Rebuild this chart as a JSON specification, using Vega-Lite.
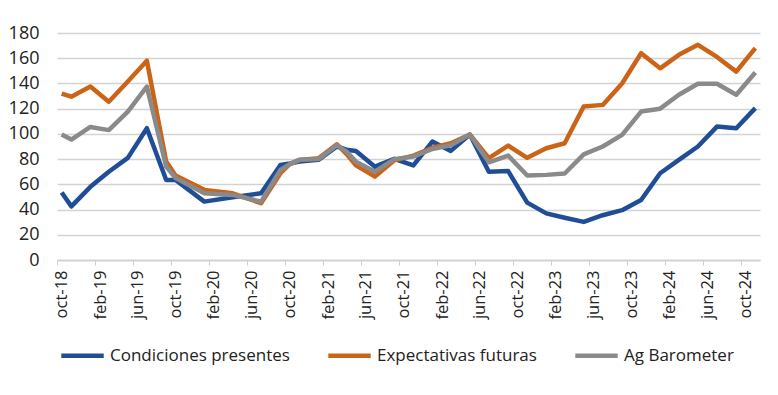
{
  "$schema": "https://vega.github.io/schema/vega-lite/v6.json",
  "width": 703,
  "height": 227,
  "autosize": {"type": "none"},
  "padding": {"left": 57, "top": 33, "right": 18, "bottom": 135},
  "background": "white",
  "config": {"view": {"stroke": null}, "font": "Open Sans"},
  "data": {
    "values": [
      {"fecha": "2018-10-01", "serie": "Condiciones presentes", "valor": 53.5},
      {"fecha": "2018-11-01", "serie": "Condiciones presentes", "valor": 42.5},
      {"fecha": "2019-01-01", "serie": "Condiciones presentes", "valor": 58},
      {"fecha": "2019-03-01", "serie": "Condiciones presentes", "valor": 70},
      {"fecha": "2019-05-01", "serie": "Condiciones presentes", "valor": 81},
      {"fecha": "2019-07-01", "serie": "Condiciones presentes", "valor": 104.5},
      {"fecha": "2019-09-01", "serie": "Condiciones presentes", "valor": 63.5},
      {"fecha": "2019-10-01", "serie": "Condiciones presentes", "valor": 63.5},
      {"fecha": "2020-01-01", "serie": "Condiciones presentes", "valor": 46.3},
      {"fecha": "2020-04-01", "serie": "Condiciones presentes", "valor": 49.8},
      {"fecha": "2020-07-01", "serie": "Condiciones presentes", "valor": 52.9},
      {"fecha": "2020-09-01", "serie": "Condiciones presentes", "valor": 75.4},
      {"fecha": "2020-10-01", "serie": "Condiciones presentes", "valor": 76.5},
      {"fecha": "2020-11-01", "serie": "Condiciones presentes", "valor": 78},
      {"fecha": "2021-01-01", "serie": "Condiciones presentes", "valor": 79.4},
      {"fecha": "2021-03-01", "serie": "Condiciones presentes", "valor": 90},
      {"fecha": "2021-04-01", "serie": "Condiciones presentes", "valor": 87.5},
      {"fecha": "2021-05-01", "serie": "Condiciones presentes", "valor": 86.5},
      {"fecha": "2021-07-01", "serie": "Condiciones presentes", "valor": 74},
      {"fecha": "2021-09-01", "serie": "Condiciones presentes", "valor": 80.2},
      {"fecha": "2021-11-01", "serie": "Condiciones presentes", "valor": 75},
      {"fecha": "2022-01-01", "serie": "Condiciones presentes", "valor": 93.9},
      {"fecha": "2022-03-01", "serie": "Condiciones presentes", "valor": 86.5},
      {"fecha": "2022-05-01", "serie": "Condiciones presentes", "valor": 99.5},
      {"fecha": "2022-07-01", "serie": "Condiciones presentes", "valor": 70},
      {"fecha": "2022-09-01", "serie": "Condiciones presentes", "valor": 70.5},
      {"fecha": "2022-11-01", "serie": "Condiciones presentes", "valor": 45.5},
      {"fecha": "2023-01-01", "serie": "Condiciones presentes", "valor": 37},
      {"fecha": "2023-03-01", "serie": "Condiciones presentes", "valor": 33.5},
      {"fecha": "2023-05-01", "serie": "Condiciones presentes", "valor": 30.2},
      {"fecha": "2023-07-01", "serie": "Condiciones presentes", "valor": 35.5},
      {"fecha": "2023-09-01", "serie": "Condiciones presentes", "valor": 39.5},
      {"fecha": "2023-11-01", "serie": "Condiciones presentes", "valor": 47.6},
      {"fecha": "2024-01-01", "serie": "Condiciones presentes", "valor": 68.8},
      {"fecha": "2024-03-01", "serie": "Condiciones presentes", "valor": 79.4},
      {"fecha": "2024-05-01", "serie": "Condiciones presentes", "valor": 90},
      {"fecha": "2024-07-01", "serie": "Condiciones presentes", "valor": 105.8},
      {"fecha": "2024-09-01", "serie": "Condiciones presentes", "valor": 104.5},
      {"fecha": "2024-11-01", "serie": "Condiciones presentes", "valor": 120.4},

      {"fecha": "2018-10-01", "serie": "Expectativas futuras", "valor": 132},
      {"fecha": "2018-11-01", "serie": "Expectativas futuras", "valor": 129.5},
      {"fecha": "2019-01-01", "serie": "Expectativas futuras", "valor": 137.5},
      {"fecha": "2019-03-01", "serie": "Expectativas futuras", "valor": 125.5},
      {"fecha": "2019-05-01", "serie": "Expectativas futuras", "valor": 141.5},
      {"fecha": "2019-07-01", "serie": "Expectativas futuras", "valor": 158},
      {"fecha": "2019-09-01", "serie": "Expectativas futuras", "valor": 78},
      {"fecha": "2019-10-01", "serie": "Expectativas futuras", "valor": 67},
      {"fecha": "2020-01-01", "serie": "Expectativas futuras", "valor": 55.6},
      {"fecha": "2020-04-01", "serie": "Expectativas futuras", "valor": 52.9},
      {"fecha": "2020-07-01", "serie": "Expectativas futuras", "valor": 45},
      {"fecha": "2020-09-01", "serie": "Expectativas futuras", "valor": 68.8},
      {"fecha": "2020-10-01", "serie": "Expectativas futuras", "valor": 76},
      {"fecha": "2020-11-01", "serie": "Expectativas futuras", "valor": 79.4},
      {"fecha": "2021-01-01", "serie": "Expectativas futuras", "valor": 80.7},
      {"fecha": "2021-03-01", "serie": "Expectativas futuras", "valor": 91.8},
      {"fecha": "2021-04-01", "serie": "Expectativas futuras", "valor": 84},
      {"fecha": "2021-05-01", "serie": "Expectativas futuras", "valor": 75},
      {"fecha": "2021-07-01", "serie": "Expectativas futuras", "valor": 66.1},
      {"fecha": "2021-09-01", "serie": "Expectativas futuras", "valor": 79},
      {"fecha": "2021-11-01", "serie": "Expectativas futuras", "valor": 82.8},
      {"fecha": "2022-01-01", "serie": "Expectativas futuras", "valor": 89},
      {"fecha": "2022-03-01", "serie": "Expectativas futuras", "valor": 92.6},
      {"fecha": "2022-05-01", "serie": "Expectativas futuras", "valor": 99.5},
      {"fecha": "2022-07-01", "serie": "Expectativas futuras", "valor": 80.7},
      {"fecha": "2022-09-01", "serie": "Expectativas futuras", "valor": 90.7},
      {"fecha": "2022-11-01", "serie": "Expectativas futuras", "valor": 81},
      {"fecha": "2023-01-01", "serie": "Expectativas futuras", "valor": 88.6},
      {"fecha": "2023-03-01", "serie": "Expectativas futuras", "valor": 92.6},
      {"fecha": "2023-05-01", "serie": "Expectativas futuras", "valor": 121.7},
      {"fecha": "2023-07-01", "serie": "Expectativas futuras", "valor": 123},
      {"fecha": "2023-09-01", "serie": "Expectativas futuras", "valor": 140},
      {"fecha": "2023-11-01", "serie": "Expectativas futuras", "valor": 164},
      {"fecha": "2024-01-01", "serie": "Expectativas futuras", "valor": 152},
      {"fecha": "2024-03-01", "serie": "Expectativas futuras", "valor": 162.7},
      {"fecha": "2024-05-01", "serie": "Expectativas futuras", "valor": 170.6},
      {"fecha": "2024-07-01", "serie": "Expectativas futuras", "valor": 161},
      {"fecha": "2024-09-01", "serie": "Expectativas futuras", "valor": 149.4},
      {"fecha": "2024-11-01", "serie": "Expectativas futuras", "valor": 168},

      {"fecha": "2018-10-01", "serie": "Ag Barometer", "valor": 99.5},
      {"fecha": "2018-11-01", "serie": "Ag Barometer", "valor": 95.5},
      {"fecha": "2019-01-01", "serie": "Ag Barometer", "valor": 105.5},
      {"fecha": "2019-03-01", "serie": "Ag Barometer", "valor": 103},
      {"fecha": "2019-05-01", "serie": "Ag Barometer", "valor": 117.7},
      {"fecha": "2019-07-01", "serie": "Ag Barometer", "valor": 137.5},
      {"fecha": "2019-09-01", "serie": "Ag Barometer", "valor": 74},
      {"fecha": "2019-10-01", "serie": "Ag Barometer", "valor": 65},
      {"fecha": "2020-01-01", "serie": "Ag Barometer", "valor": 53},
      {"fecha": "2020-04-01", "serie": "Ag Barometer", "valor": 51.6},
      {"fecha": "2020-07-01", "serie": "Ag Barometer", "valor": 46.3},
      {"fecha": "2020-09-01", "serie": "Ag Barometer", "valor": 71.4},
      {"fecha": "2020-10-01", "serie": "Ag Barometer", "valor": 76},
      {"fecha": "2020-11-01", "serie": "Ag Barometer", "valor": 79.4},
      {"fecha": "2021-01-01", "serie": "Ag Barometer", "valor": 80},
      {"fecha": "2021-03-01", "serie": "Ag Barometer", "valor": 91},
      {"fecha": "2021-04-01", "serie": "Ag Barometer", "valor": 86},
      {"fecha": "2021-05-01", "serie": "Ag Barometer", "valor": 78},
      {"fecha": "2021-07-01", "serie": "Ag Barometer", "valor": 70},
      {"fecha": "2021-09-01", "serie": "Ag Barometer", "valor": 80},
      {"fecha": "2021-11-01", "serie": "Ag Barometer", "valor": 82},
      {"fecha": "2022-01-01", "serie": "Ag Barometer", "valor": 88},
      {"fecha": "2022-03-01", "serie": "Ag Barometer", "valor": 91},
      {"fecha": "2022-05-01", "serie": "Ag Barometer", "valor": 99.5},
      {"fecha": "2022-07-01", "serie": "Ag Barometer", "valor": 77.5},
      {"fecha": "2022-09-01", "serie": "Ag Barometer", "valor": 82.8},
      {"fecha": "2022-11-01", "serie": "Ag Barometer", "valor": 67},
      {"fecha": "2023-01-01", "serie": "Ag Barometer", "valor": 67.5},
      {"fecha": "2023-03-01", "serie": "Ag Barometer", "valor": 68.6},
      {"fecha": "2023-05-01", "serie": "Ag Barometer", "valor": 83.7},
      {"fecha": "2023-07-01", "serie": "Ag Barometer", "valor": 90},
      {"fecha": "2023-09-01", "serie": "Ag Barometer", "valor": 99.2},
      {"fecha": "2023-11-01", "serie": "Ag Barometer", "valor": 117.7},
      {"fecha": "2024-01-01", "serie": "Ag Barometer", "valor": 120},
      {"fecha": "2024-03-01", "serie": "Ag Barometer", "valor": 131},
      {"fecha": "2024-05-01", "serie": "Ag Barometer", "valor": 139.7},
      {"fecha": "2024-07-01", "serie": "Ag Barometer", "valor": 139.7},
      {"fecha": "2024-09-01", "serie": "Ag Barometer", "valor": 131},
      {"fecha": "2024-11-01", "serie": "Ag Barometer", "valor": 148.7}
    ]
  },
  "mark": {"type": "line", "strokeWidth": 4.5, "strokeJoin": "round", "clip": false},
  "encoding": {
    "x": {
      "field": "fecha",
      "type": "temporal",
      "scale": {
        "type": "utc",
        "domain": [
          {"year": 2018, "month": 9, "date": 16, "utc": true},
          {"year": 2024, "month": 11, "date": 16, "utc": true}
        ]
      },
      "axis": {
        "title": null,
        "values": [
          {"year": 2018, "month": 10, "date": 1, "utc": true},
          {"year": 2019, "month": 2, "date": 1, "utc": true},
          {"year": 2019, "month": 6, "date": 1, "utc": true},
          {"year": 2019, "month": 10, "date": 1, "utc": true},
          {"year": 2020, "month": 2, "date": 1, "utc": true},
          {"year": 2020, "month": 6, "date": 1, "utc": true},
          {"year": 2020, "month": 10, "date": 1, "utc": true},
          {"year": 2021, "month": 2, "date": 1, "utc": true},
          {"year": 2021, "month": 6, "date": 1, "utc": true},
          {"year": 2021, "month": 10, "date": 1, "utc": true},
          {"year": 2022, "month": 2, "date": 1, "utc": true},
          {"year": 2022, "month": 6, "date": 1, "utc": true},
          {"year": 2022, "month": 10, "date": 1, "utc": true},
          {"year": 2023, "month": 2, "date": 1, "utc": true},
          {"year": 2023, "month": 6, "date": 1, "utc": true},
          {"year": 2023, "month": 10, "date": 1, "utc": true},
          {"year": 2024, "month": 2, "date": 1, "utc": true},
          {"year": 2024, "month": 6, "date": 1, "utc": true},
          {"year": 2024, "month": 10, "date": 1, "utc": true}
        ],
        "labelExpr": "lower(utcFormat(datum.value, '%b-%y'))",
        "labelAngle": -90,
        "labelFontSize": 16.5,
        "labelColor": "#222222",
        "labelPadding": 5,
        "labelOverlap": false,
        "labelFlush": false,
        "ticks": true,
        "tickSize": 5,
        "tickOffset": -4.75,
        "labelOffset": 4.75,
        "tickColor": "#cfcfcf",
        "domain": true,
        "domainColor": "#cfcfcf",
        "domainWidth": 1.5,
        "grid": false
      }
    },
    "y": {
      "field": "valor",
      "type": "quantitative",
      "scale": {"domain": [0, 180], "nice": false},
      "axis": {
        "title": null,
        "values": [0, 20, 40, 60, 80, 100, 120, 140, 160, 180],
        "labelFontSize": 18,
        "labelColor": "#222222",
        "labelPadding": 18,
        "ticks": false,
        "domain": false,
        "grid": true,
        "gridColor": "#d3d3d3",
        "gridWidth": 1.5
      }
    },
    "color": {
      "field": "serie",
      "type": "nominal",
      "sort": ["Condiciones presentes", "Expectativas futuras", "Ag Barometer"],
      "scale": {
        "domain": ["Condiciones presentes", "Expectativas futuras", "Ag Barometer"],
        "range": ["#1f4e96", "#cc6418", "#8a8a8a"]
      },
      "legend": {
        "title": null,
        "orient": "none",
        "legendX": 2,
        "legendY": 299,
        "direction": "horizontal",
        "symbolType": "stroke",
        "symbolStrokeWidth": 4.5,
        "symbolSize": 1800,
        "labelFontSize": 17,
        "labelLimit": 0,
        "labelColor": "#222222",
        "labelOffset": 4,
        "columnPadding": 29
      }
    },
    "order": {"field": "fecha", "type": "temporal"}
  }
}
